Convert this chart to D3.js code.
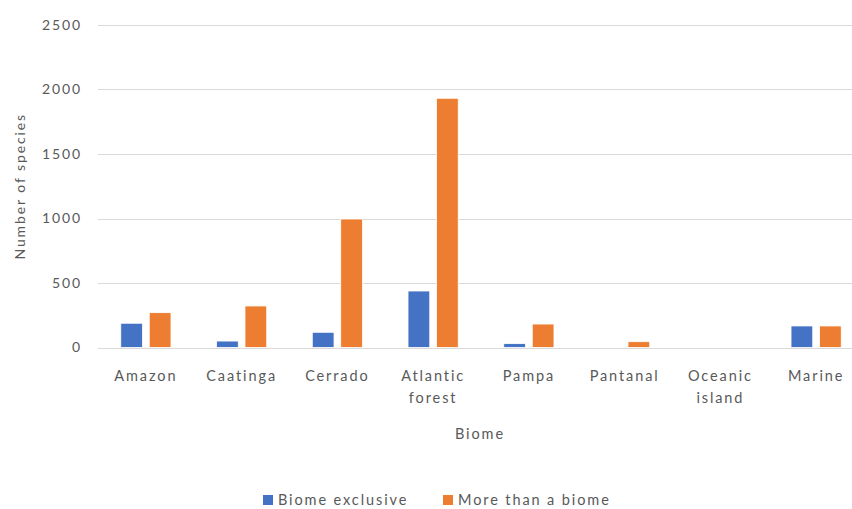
<!DOCTYPE html>
<html>
<head>
<meta charset="utf-8">
<script src="https://cdn.jsdelivr.net/npm/d3@7"></script>
<style>
  html, body { margin: 0; padding: 0; background: #fff; }
  svg { display: block; }
  text { font-family: Lato, "Liberation Sans", sans-serif; fill: #595959; letter-spacing: 1.9px; }
</style>
</head>
<body>
<svg id="chart" width="852" height="509"></svg>
<script>
// Number of species per biome
const biomes = ["Amazon", "Caatinga", "Cerrado", "Atlantic forest", "Pampa", "Pantanal", "Oceanic island", "Marine"];
const biomeExclusive = [188, 50, 118, 438, 30, 0, 0, 167];
const moreThanABiome = [270, 322, 996, 1932, 182, 45, 0, 167];
const seriesNames = ["Biome exclusive", "More than a biome"];
const seriesColors = ["#4472C4", "#ED7D31"];
const yTicks = [0, 500, 1000, 1500, 2000, 2500];

const svg = d3.select("#chart");
const W = 852, H = 509;
const margin = { left: 98, right: -12, top: 25, bottom: 161.5 };
const plotRight = W - margin.right;
const plotBottom = H - margin.bottom;
const FONT = "Lato, 'Liberation Sans', sans-serif";

const x0 = d3.scaleBand().domain(biomes).range([margin.left, plotRight]).paddingInner(0).paddingOuter(0);
const x1 = d3.scaleBand().domain(seriesNames).range([0, x0.bandwidth()]).paddingInner(0.236).paddingOuter(0.8);
const y = d3.scaleLinear().domain([0, 2500]).range([plotBottom, margin.top]);

// Gridlines
svg.append("g")
  .selectAll("line")
  .data(yTicks)
  .join("line")
  .attr("x1", margin.left)
  .attr("x2", W)
  .attr("y1", d => Math.round(y(d)) + 0.5)
  .attr("y2", d => Math.round(y(d)) + 0.5)
  .attr("stroke", "#d9d9d9")
  .attr("stroke-width", 1.2);

// Y axis tick labels
const yAxis = d3.axisLeft(y).tickValues(yTicks).tickFormat(d3.format("d")).tickSize(0).tickPadding(0);
const gy = svg.append("g").attr("transform", `translate(${margin.left - 16},0)`).call(yAxis);
gy.select(".domain").remove();
gy.selectAll("text")
  .style("font-family", FONT)
  .style("font-size", "14px")
  .style("letter-spacing", "1.9px")
  .attr("fill", "#595959");

// Bars
const rows = biomes.map((b, i) => ({ biome: b, values: [biomeExclusive[i], moreThanABiome[i]] }));
const groups = svg.append("g")
  .selectAll("g")
  .data(rows)
  .join("g")
  .attr("transform", d => `translate(${x0(d.biome)},0)`);

groups.selectAll("rect")
  .data(d => d.values.map((v, j) => ({ series: seriesNames[j], value: v, color: seriesColors[j] })))
  .join("rect")
  .attr("x", d => x1(d.series))
  .attr("width", x1.bandwidth())
  .attr("y", d => y(d.value))
  .attr("height", d => y(0) - y(d.value))
  .attr("fill", d => d.color)
  .attr("stroke", "#fff")
  .attr("stroke-width", 0.8);

// X axis category labels (wrapped onto two lines where needed)
const xAxis = d3.axisBottom(x0).tickSize(0).tickPadding(0);
const gx = svg.append("g").attr("transform", `translate(0,${plotBottom})`).call(xAxis);
gx.select(".domain").remove();
gx.selectAll("text").each(function(d) {
  const t = d3.select(this);
  t.text(null)
    .attr("y", 0)
    .attr("dy", null)
    .style("font-family", FONT)
    .style("font-size", "14.5px")
    .style("letter-spacing", "1.9px")
    .attr("fill", "#595959");
  const words = d.split(" ");
  words.forEach((w, k) => {
    t.append("tspan")
      .attr("x", 0)
      .attr("y", 33 + k * 22)
      .text(w);
  });
});

// Axis titles
svg.append("text")
  .attr("transform", `translate(25,${(margin.top + plotBottom) / 2}) rotate(-90)`)
  .attr("text-anchor", "middle")
  .style("font-size", "14px")
  .text("Number of species");

svg.append("text")
  .attr("x", 480)
  .attr("y", 439)
  .attr("text-anchor", "middle")
  .style("font-size", "14.5px")
  .text("Biome");

// Legend
const legendItems = [
  { name: seriesNames[0], color: seriesColors[0], x: 263 },
  { name: seriesNames[1], color: seriesColors[1], x: 443 }
];
const lg = svg.append("g");
legendItems.forEach(it => {
  lg.append("rect")
    .attr("x", it.x).attr("y", 495)
    .attr("width", 10).attr("height", 10)
    .attr("fill", it.color);
  lg.append("text")
    .attr("x", it.x + 15).attr("y", 505)
    .style("font-size", "14.5px")
    .text(it.name);
});
</script>
</body>
</html>
